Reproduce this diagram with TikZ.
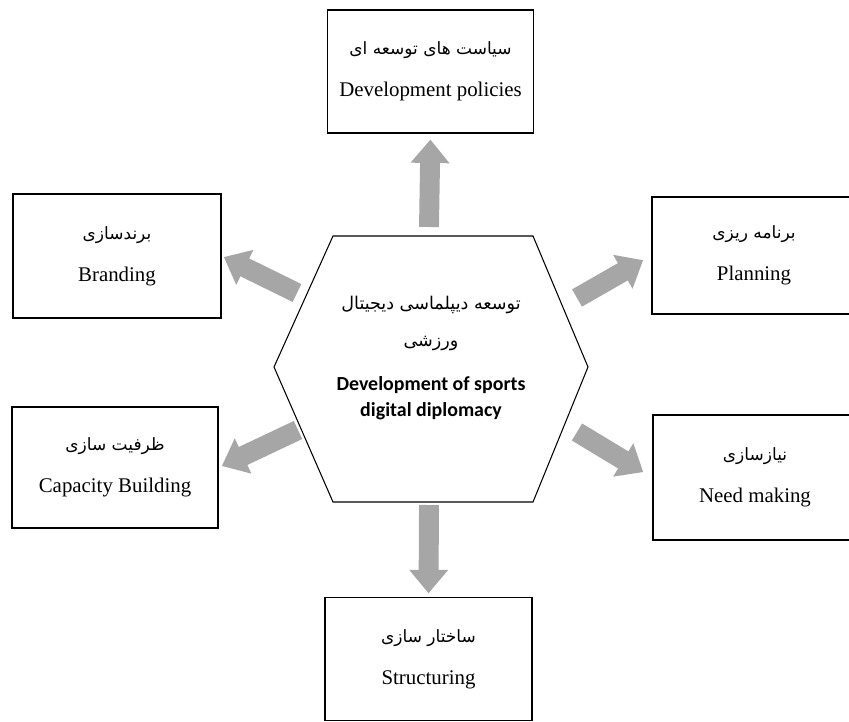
\documentclass[tikz,border=0pt]{standalone}
\usepackage{fontspec}
\setmainfont{Liberation Serif}
\newfontfamily\persfont[Script=Arabic]{DejaVu Sans}
\newfontfamily\hubfont{Carlito}
\TeXXeTstate=1
\usetikzlibrary{arrows.meta}
\definecolor{arrowgray}{RGB}{166,166,166}
\tikzset{
    box/.style={draw, line width=1.2pt, minimum width=206*0.03cm, minimum height=123*0.03cm, align=center, inner sep=0pt, font=\fontsize{17.8}{20}\selectfont},
    hexline/.style={line width=0.9pt},
    blockarrow/.style={-{Triangle[length=20pt, width=32pt]}, line width=17pt, arrowgray}
}
\newcommand{\faline}[1]{{\persfont\fontsize{14.5}{18}\selectfont\beginR #1\endR}}
\newcommand{\hubfa}[1]{{\persfont\mdseries\fontsize{15}{18}\selectfont\beginR #1\endR}}

\begin{document}
\begin{tikzpicture}[x=0.03cm, y=-0.03cm]
    \useasboundingbox (0,0) rectangle (849,721);
    % hexagon corners
    \coordinate (h1) at (333,236);
    \coordinate (h2) at (533,236);
    \coordinate (h3) at (588,367);
    \coordinate (h4) at (533,502);
    \coordinate (h5) at (333,502);
    \coordinate (h6) at (274,367);
    \draw[hexline] (h1) -- (h2) -- (h3) -- (h4) -- (h5) -- (h6) -- cycle;
    \node[align=center, font=\hubfont\bfseries\fontsize{17}{22}\selectfont] (hub) at (431,358)
        {\hubfa{توسعه دیپلماسی دیجیتال}\\[9pt]\hubfa{ورزشی}\\[16pt]Development of sports\\digital diplomacy};

    % outer boxes
    \node[box] (policies) at (430.5,71.5) {\faline{سیاست های توسعه ای}\\[16pt]Development policies};
    \node[box, minimum width=208*0.03cm, minimum height=124*0.03cm] (branding) at (117,256) {\faline{برندسازی}\\[16pt]Branding};
    \node[box, minimum width=204*0.03cm, minimum height=117*0.03cm] (planning) at (754,255.5) {\faline{برنامه ریزی}\\[16pt]Planning};
    \node[box, minimum height=121*0.03cm] (capacity) at (115,467.5) {\faline{ظرفیت سازی}\\[16pt]Capacity Building};
    \node[box, minimum width=204*0.03cm, minimum height=125*0.03cm] (needs) at (755,477.5) {\faline{نیازسازی}\\[16pt]Need making};
    \node[box, minimum width=207*0.03cm] (structure) at (428.5,659) {\faline{ساختار سازی}\\[16pt]Structuring};

    % arrow tails next to the hexagon
    \coordinate (tN) at (429,227);
    \coordinate (tS) at (429,505);
    \coordinate (tNW) at (297,293);
    \coordinate (tNE) at (577,298);
    \coordinate (tSW) at (298,430);
    \coordinate (tSE) at (577,432);

    \draw[blockarrow, shorten >=5pt] (tN) -- (policies.south);
    \draw[blockarrow, shorten >=3pt] (tS) -- (structure.north);
    \draw[blockarrow, shorten >=2pt] (tNW) -- (branding.east);
    \draw[blockarrow, shorten >=8pt] (tNE) -- (planning.west);
    \draw[blockarrow, shorten >=3pt] (tSW) -- (capacity.east);
    \draw[blockarrow, shorten >=9pt] (tSE) -- (needs.west);
\end{tikzpicture}
\end{document}
